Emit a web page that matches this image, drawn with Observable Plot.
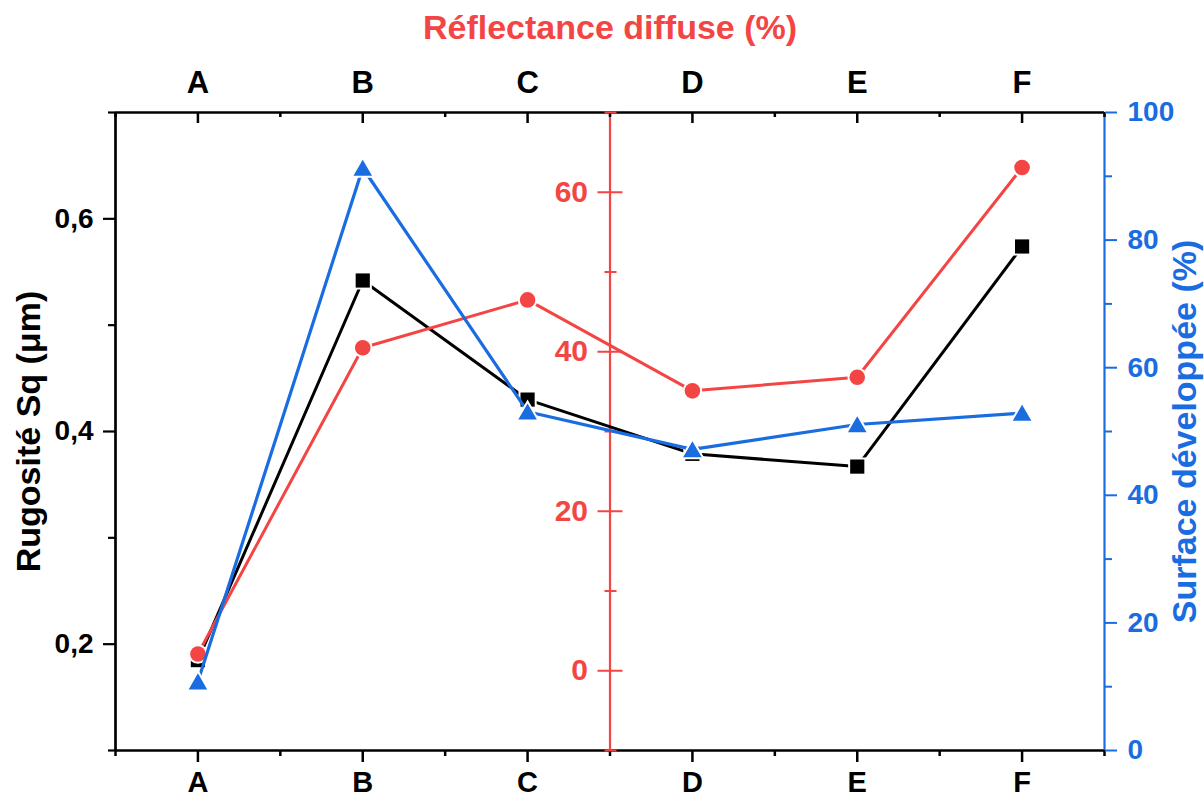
<!DOCTYPE html>
<html><head><meta charset="utf-8">
<script src="https://cdn.jsdelivr.net/npm/d3@7"></script>
<script src="https://cdn.jsdelivr.net/npm/@observablehq/plot@0.6"></script>
<style>html,body{margin:0;padding:0;background:#fff;} #chart svg{display:block;}</style>
</head><body><div id="chart"></div>
<script>
// ---- data ----
const categories = ["A", "B", "C", "D", "E", "F"];
const rugositeSq = [0.185, 0.542, 0.430, 0.379, 0.367, 0.574];      // µm (left axis)
const reflectance = [2.1, 40.5, 46.5, 35.1, 36.8, 63.1];           // % (red middle axis)
const surface = [10.8, 91.3, 53.1, 47.2, 51.1, 52.9];               // % (blue right axis)

const sqTicks = [0.2, 0.4, 0.6];
const sqMinor = [0.1, 0.3, 0.5, 0.7];
const redTicks = [0, 20, 40, 60];
const redMinor = [-10, 10, 30, 50, 70];
const blueTicks = [0, 20, 40, 60, 80, 100];
const blueMinor = [10, 30, 50, 70, 90];

const titleTop = "Réflectance diffuse (%)";
const titleLeft = "Rugosité Sq (μm)";
const titleRight = "Surface développée (%)";

// ---- styling ----
const RED = "#f44545", BLUE = "#1a6de0", BLACK = "#000000";
const FONT = "Liberation Sans, Arial, Helvetica, sans-serif";
const W = 1204, H = 799, mL = 115, mR = 100, mT = 112, mB = 49;

const sqDomain = [0.1, 0.7], redDomain = [-10, 70], blueDomain = [0, 100];
const lin = (d0, d1) => v => d1[0] + (v - d0[0]) / (d0[1] - d0[0]) * (d1[1] - d1[0]);
const redToSq = lin(redDomain, sqDomain), sqToRed = lin(sqDomain, redDomain);
const blueToSq = lin(blueDomain, sqDomain), sqToBlue = lin(sqDomain, blueDomain);

const rows = (vals, f) => categories.map((c, i) => ({i, cat: c, value: vals[i], y: f(vals[i])}));
const sqRows = rows(rugositeSq, v => v);
const redRows = rows(reflectance, redToSq);
const blueRows = rows(surface, blueToSq);

const redAxisPx = mL + (W - mL - mR) / 2; // position of x = 2.5
const txt = {fontFamily: FONT, fontWeight: "bold"};
const idx = categories.map((c, i) => i);
const minorX = [-0.5, ...idx.map(i => i + 0.5)];

const chart = Plot.plot({
  width: W, height: H,
  marginLeft: mL, marginRight: mR, marginTop: mT, marginBottom: mB,
  style: {background: "#fff", overflow: "visible"},
  x: {domain: [-0.5, 5.5], axis: null},
  y: {domain: sqDomain, axis: null},
  marks: [
    // frame / axis lines
    Plot.ruleY([sqDomain[1]], {stroke: BLACK, strokeWidth: 2.7}),
    Plot.ruleY([sqDomain[0]], {stroke: BLACK, strokeWidth: 2.7}),
    Plot.ruleX([-0.5], {stroke: BLACK, strokeWidth: 2.7}),
    Plot.ruleX([5.5], {stroke: BLUE, strokeWidth: 2.2}),
    Plot.ruleX([2.5], {stroke: RED, strokeWidth: 2.2}),

    // bottom x axis
    Plot.axisX({anchor: "bottom", ticks: idx, tickFormat: i => categories[i], tickSize: 12, tickPadding: 9,
      fontSize: 29, ...txt, stroke: BLACK, fill: BLACK, strokeWidth: 2.5, label: null}),
    Plot.axisX({anchor: "bottom", ticks: minorX, tickSize: 6, fill: "none", stroke: BLACK, strokeWidth: 2.5, label: null}),
    // top x axis (ticks inward)
    Plot.axisX({anchor: "top", ticks: idx, tickFormat: i => categories[i], tickSize: 0, tickPadding: 20,
      fontSize: 31, ...txt, fill: BLACK, label: null}),
    Plot.axisX({anchor: "bottom", ticks: idx, tickSize: 11, dy: -(H - mT - mB), fill: "none", stroke: BLACK, strokeWidth: 2.5, label: null}),
    Plot.axisX({anchor: "bottom", ticks: minorX, tickSize: 5, dy: -(H - mT - mB), fill: "none", stroke: BLACK, strokeWidth: 2.5, label: null}),

    // left axis (Sq)
    Plot.axisY({anchor: "left", ticks: sqTicks, tickFormat: d => d.toFixed(1).replace(".", ","), tickSize: 12, tickPadding: 10,
      fontSize: 28, ...txt, stroke: BLACK, fill: BLACK, strokeWidth: 2.2, label: null}),
    Plot.axisY({anchor: "left", ticks: sqMinor, tickSize: 7, fill: "none", stroke: BLACK, strokeWidth: 2.2, label: null}),

    // red middle axis
    Plot.axisY({anchor: "left", ticks: redTicks.map(redToSq), tickFormat: d => String(Math.round(sqToRed(d))),
      tickSize: 25, tickPadding: 10, dx: redAxisPx - mL + 13,
      fontSize: 30, ...txt, stroke: RED, fill: RED, strokeWidth: 2, label: null}),
    Plot.axisY({anchor: "left", ticks: redMinor.map(redToSq), tickSize: 12, dx: redAxisPx - mL + 7,
      fill: "none", stroke: RED, strokeWidth: 2, label: null}),

    // blue right axis
    Plot.axisY({anchor: "right", ticks: blueTicks.map(blueToSq), tickFormat: d => String(Math.round(sqToBlue(d))),
      tickSize: 12, tickPadding: 11, fontSize: 28, ...txt, stroke: BLUE, fill: BLUE, strokeWidth: 2, label: null}),
    Plot.axisY({anchor: "right", ticks: blueMinor.map(blueToSq), tickSize: 7, fill: "none", stroke: BLUE, strokeWidth: 2, label: null}),

    // titles
    Plot.text([titleTop], {frameAnchor: "top", dy: -84, lineAnchor: "middle", textAnchor: "middle", fontSize: 34, ...txt, fill: RED}),
    Plot.text([titleLeft], {frameAnchor: "left", dx: -86, rotate: -90, textAnchor: "middle", lineAnchor: "middle", fontSize: 34, ...txt, fill: BLACK}),
    Plot.text([titleRight], {frameAnchor: "right", dx: 81, rotate: -90, textAnchor: "middle", lineAnchor: "middle", fontSize: 34, ...txt, fill: BLUE}),

    // series
    Plot.line(sqRows, {x: "i", y: "y", stroke: BLACK, strokeWidth: 3}),
    Plot.dot(sqRows, {x: "i", y: "y", symbol: "square", r: 8, fill: BLACK, stroke: "white", strokeWidth: 4, paintOrder: "stroke"}),
    Plot.line(redRows, {x: "i", y: "y", stroke: RED, strokeWidth: 3}),
    Plot.dot(redRows, {x: "i", y: "y", symbol: "circle", r: 7.8, fill: RED, stroke: "white", strokeWidth: 4, paintOrder: "stroke"}),
    Plot.line(blueRows, {x: "i", y: "y", stroke: BLUE, strokeWidth: 3.2}),
    Plot.dot(blueRows, {x: "i", y: "y", symbol: "triangle", r: 6.9, dy: 2.5, fill: BLUE, stroke: "white", strokeWidth: 4, paintOrder: "stroke"})
  ]
});
document.getElementById("chart").appendChild(chart);
</script>
</body></html>
